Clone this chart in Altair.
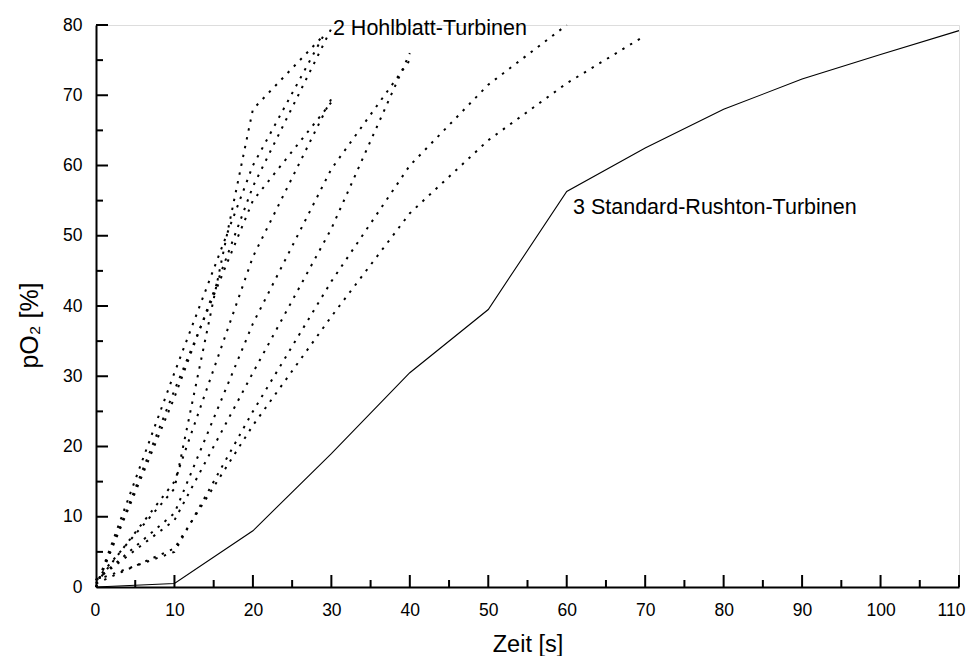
import altair as alt
import pandas as pd

# ---- data ----
series_names = ["E1", "E2", "E3", "E4", "E5", "A", "B", "C", "D"]
series_t = [
    [0, 10, 20, 29],
    [0, 10, 20, 29],
    [0, 10, 20, 30],
    [0, 10, 20, 30],
    [0, 10, 20, 30],
    [0, 10, 20, 30, 40],
    [0, 10, 20, 30, 40],
    [0, 10, 20, 30, 40, 50, 60],
    [0, 10, 20, 30, 40, 50, 60, 70],
]
series_p = [
    [1, 14, 68, 78.5],
    [0, 30.5, 60, 78.5],
    [0, 27, 57, 79.5],
    [0.5, 15, 47, 69.5],
    [0, 28, 55, 69],
    [1, 10.5, 37.5, 59.5, 75],
    [1, 9.5, 30.5, 51, 76],
    [1, 5, 25, 43.5, 60, 71.5, 80],
    [0.5, 5.5, 23, 38.5, 53.2, 63.6, 71.7, 78.5],
]
rushton_t = [0, 10, 20, 30, 40, 50, 60, 70, 80, 90, 100, 110]
rushton_p = [0, 0.5, 8, 19, 30.5, 39.5, 56.3, 62.5, 68, 72.3, 75.8, 79.2]

x_major = list(range(0, 111, 10))
x_minor = list(range(5, 110, 10))
y_major = list(range(0, 81, 10))
y_minor = list(range(5, 80, 10))

labels_text = ["2 Hohlblatt-Turbinen", "3 Standard-Rushton-Turbinen"]
labels_t = [30.2, 60.8]
labels_p = [79.4, 54.0]

# ---- build tables ----
rows = []
for name, ts, ps in zip(series_names, series_t, series_p):
    for t, p in zip(ts, ps):
        rows.append({"series": name, "t": t, "p": p})
dotted_df = pd.DataFrame(rows)
solid_df = pd.DataFrame({"t": rushton_t, "p": rushton_p})
lab_df = pd.DataFrame({"text": labels_text, "t": labels_t, "p": labels_p})

W, H = 863, 562
FONT = "Liberation Sans"

xscale = alt.Scale(domain=[0, 110], nice=False, zero=False)
yscale = alt.Scale(domain=[0, 80], nice=False, zero=False)

xaxis = alt.Axis(values=x_major, grid=False, ticks=False, domainWidth=2, domainColor="black",
                 labelFontSize=17.5, labelFont=FONT, labelColor="black", labelPadding=14,
                 labelFlush=True, labelFlushOffset=6,
                 title="Zeit [s]", titleFont=FONT, titleFontSize=23.5, titleFontWeight="normal",
                 titleColor="black", titlePadding=14)
yaxis = alt.Axis(values=y_major, grid=False, ticks=False, domainWidth=2, domainColor="black",
                 labelFontSize=17.5, labelFont=FONT, labelColor="black", labelPadding=14,
                 title="pO₂ [%]", titleFont=FONT, titleFontSize=25, titleFontWeight="normal",
                 titleColor="black", titlePadding=20, titleY=300, labelFlush=False)

dotted = alt.Chart(dotted_df).mark_line(
    color="black", strokeWidth=2, strokeDash=[2.4, 6.6], strokeCap="butt"
).encode(
    x=alt.X("t:Q", scale=xscale, axis=xaxis),
    y=alt.Y("p:Q", scale=yscale, axis=yaxis),
    detail="series:N",
    order="t:Q",
)

solid = alt.Chart(solid_df).mark_line(color="black", strokeWidth=1.1).encode(
    x=alt.X("t:Q", scale=xscale),
    y=alt.Y("p:Q", scale=yscale),
)

xmaj = alt.Chart(pd.DataFrame({"v": x_major[1:]})).mark_rule(color="black", strokeWidth=2).encode(
    x=alt.X("v:Q", scale=xscale), y=alt.value(H), y2=alt.value(H - 12))
xmin = alt.Chart(pd.DataFrame({"v": x_minor})).mark_rule(color="black", strokeWidth=2).encode(
    x=alt.X("v:Q", scale=xscale), y=alt.value(H), y2=alt.value(H - 7))
ymaj = alt.Chart(pd.DataFrame({"v": y_major[1:]})).mark_rule(color="black", strokeWidth=2).encode(
    y=alt.Y("v:Q", scale=yscale), x=alt.value(0), x2=alt.value(12))
ymin = alt.Chart(pd.DataFrame({"v": y_minor})).mark_rule(color="black", strokeWidth=2).encode(
    y=alt.Y("v:Q", scale=yscale), x=alt.value(0), x2=alt.value(7))

texts = alt.Chart(lab_df).mark_text(
    align="left", baseline="middle", font=FONT, fontSize=21.5, color="black"
).encode(
    x=alt.X("t:Q", scale=xscale),
    y=alt.Y("p:Q", scale=yscale),
    text="text:N",
)

chart = alt.layer(dotted, solid, xmaj, xmin, ymaj, ymin, texts).properties(
    width=W, height=H,
    autosize=alt.AutoSizeParams(type="none"),
    padding={"left": 88, "top": 17, "right": 8, "bottom": 69},
).configure_view(stroke=None).configure(background="white")

chart.save("out.html", embed_options={"renderer": "svg", "actions": False})
